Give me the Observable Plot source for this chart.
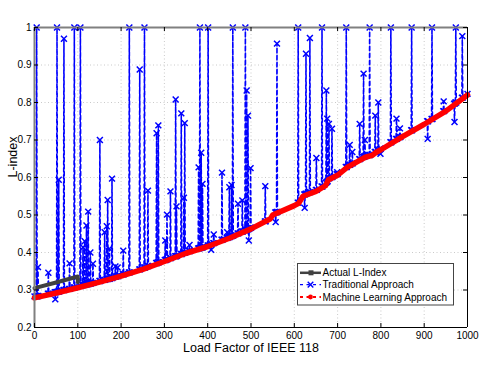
<!DOCTYPE html>
<html><head><meta charset="utf-8">
<script src="https://cdn.jsdelivr.net/npm/d3@7"></script>
<script src="https://cdn.jsdelivr.net/npm/@observablehq/plot@0.6"></script>
<style>
body{margin:0;background:#fff}
#chart{width:485px;height:374px}
</style>
</head><body><div id="chart"></div>
<script>
// ---- data ----
const xTicks = [0,100,200,300,400,500,600,700,800,900,1000];
const yTicks = [0.2,0.3,0.4,0.5,0.6,0.7,0.8,0.9,1];

const actualX = [0, 50, 100, 100];
const actualY = [0.305, 0.320, 0.336, 0.321];

const mlX = [0,50,100,150,200,250,300,350,400,450,500,545,550,600,610,620,650,672,679,700,722,750,764,780,790,800,850,900,950,1000];
const mlY = [0.279,0.292,0.306,0.321,0.337,0.355,0.376,0.398,0.416,0.438,0.463,0.490,0.500,0.525,0.531,0.550,0.563,0.578,0.594,0.606,0.627,0.645,0.654,0.659,0.668,0.674,0.709,0.742,0.777,0.820];

const tradPts = [
[0,.283],
[4,.283],[5,1],[6,.283],
[7,.284],[8,.361],[9,.284],
[31,.290],[32,.346],[33,.290],
[47,.294],[48,.275],[49,.294],
[51,.295],[52,1],[53,.295],
[55,.296],[56,.594],[57,.296],
[67,.300],[68,.97],[69,.300],
[80,.303],[81,.371],[82,.303],
[91,.307],[92,1],[93,.307],
[105,.311],[106,1],[107,.311],
[111,.313],[112,.414],[113,.313],
[115,.314],[116,.43],[117,.314],
[119,.315],[120,.472],[121,.315],
[123,.316],[124,.509],[125,.316],
[128,.317],[129,.40],[130,.317],
[134,.319],[135,.37],[136,.319],
[150,.324],[151,.70],[152,.324],
[161,.327],[162,.454],[163,.327],
[166,.329],[167,.47],[168,.329],
[169,.54],[170,.329],
[172,.330],[173,.41],[174,.330],
[178,.332],[179,.597],[180,.332],
[186,.336],[187,.363],[188,.336],
[191,.337],[192,.36],[193,.337],
[204,.342],[205,.405],[206,.342],
[218,.347],[219,1],[220,.347],
[242,.355],[243,.888],[244,.355],
[253,.360],[254,1],[255,.360],
[261,.364],[262,.565],[263,.364],
[281,.372],[282,.718],[283,.372],
[285,.374],[286,.739],[287,.374],
[301,.380],[302,.432],[303,.380],
[305,.382],[306,.501],[307,.382],
[313,.385],[314,.563],[315,.385],
[325,.390],[326,.808],[327,.390],
[328,.523],[329,.391],
[338,.396],[339,.771],[340,.396],
[344,.399],[345,.546],[346,.399],
[347,.745],[348,.400],
[357,.404],[358,.42],[359,.404],
[378,.411],[379,.627],[380,.411],
[381,.412],[382,1],[383,.412],
[384,.413],[385,.666],[386,.413],
[387,.414],[388,.583],[389,.414],
[400,.419],[401,1],[402,.419],
[407,.422],[408,.407],[409,.422],
[413,.425],[414,.448],[415,.425],
[432,.434],[433,.613],[434,.434],
[444,.439],[445,.454],[446,.439],
[449,.441],[450,.574],[451,.441],
[454,.444],[455,.58],[456,.444],
[457,.445],[458,1],[459,.445],
[469,.451],[470,.53],[471,.451],
[479,.456],[480,.539],[481,.456],
[486,.459],[487,1],[488,.459],
[489,.461],[490,.832],[491,.461],
[492,.462],[493,.765],[494,.462],
[495,.432],[496,.463],
[498,.466],[499,.625],[500,.466],
[532,.483],[533,.577],[534,.483],
[556,.507],[557,.481],[558,.507],
[559,.508],[560,.957],[561,.508],
[608,.533],[609,1],[610,.533],
[623,.555],[624,.519],[625,.555],
[626,.557],[627,.93],[628,.557],
[635,.561],[636,.972],[637,.561],
[650,.567],[651,.652],[652,.567],
[663,.576],[664,1],[665,.576],
[673,.586],[674,.832],[675,.588],
[676,.757],[677,.590],
[679,.598],[680,.743],[681,.598],
[686,.601],[687,.73],[688,.601],
[698,.609],[699,.614],[700,.609],
[719,.628],[720,1],[721,.628],
[727,.634],[728,.687],[729,.634],
[733,.638],[734,.668],[735,.638],
[750,.649],[751,.743],[752,.649],
[759,.655],[760,.877],[761,.655],
[762,.657],[763,.70],[764,.657],
[773,.660],[774,1],[775,.660],
[786,.668],[787,.765],[788,.668],
[793,.673],[794,.80],[795,.673],
[798,.677],[799,.663],[800,.677],
[822,.694],[823,1],[824,.694],
[835,.703],[836,.757],[837,.703],
[843,.708],[844,.731],[845,.708],
[870,.726],[871,1],[872,.726],
[907,.750],[908,.703],[909,.750],
[917,.756],[918,1],[919,.756],
[944,.777],[945,.803],[946,.777],
[969,.797],[970,.748],[971,.797],
[972,.800],[973,1],[974,.800],
[987,.813],[988,.977],[989,.813],
[1000,.823]
];

const seriesNames = ["Actual L-Index", "Traditional Approach", "Machine Learning Approach"];
const xLabel = "Load Factor of IEEE 118";
const yLabel = "L-index";

// ---- build tables ----
const actual = actualX.map((x,i)=>({x, y: actualY[i]}));
const ml = mlX.map((x,i)=>({x, y: mlY[i]}));
const trad = tradPts.map(([x,y])=>({x, y}));

const FONT = "'Liberation Sans', Arial, Helvetica, sans-serif";
const fmtY = d => String(+d.toFixed(1));

const chart = Plot.plot({
  width: 485, height: 374,
  marginLeft: 34, marginRight: 18, marginTop: 27, marginBottom: 47,
  x: {domain: [0, 1000], ticks: xTicks, label: null},
  y: {domain: [0.2, 1], ticks: yTicks, label: null},
  style: {fontFamily: FONT, fontSize: "10px", color: "#000", background: "#fff", overflow: "visible"},
  marks: [
    Plot.ruleX(xTicks.slice(1, -1), {x: d => d, stroke: "#bdbdbd", strokeWidth: 0.8, strokeDasharray: "1,2.5"}),
    Plot.ruleY(yTicks.slice(1, -1), {y: d => d, stroke: "#bdbdbd", strokeWidth: 0.8, strokeDasharray: "1,2.5"}),
    Plot.line(trad, {x: "x", y: "y", stroke: "#0000ff", strokeWidth: 1.6, strokeDasharray: "4,3"}),
    Plot.dot(trad, {x: "x", y: "y", symbol: "times", r: 2.8, stroke: "#0000ff", strokeWidth: 1.5}),
    Plot.line(actual, {x: "x", y: "y", stroke: "#404040", strokeWidth: 4}),
    Plot.line(ml, {x: "x", y: "y", stroke: "#ff0000", strokeWidth: 5.5, strokeLinejoin: "round", strokeLinecap: "round"}),
    // box
    Plot.ruleY([0.2], {y: d => d, stroke: "#000", strokeWidth: 1}),
    Plot.ruleX([1000], {x: d => d, stroke: "#000", strokeWidth: 1}),
    Plot.ruleY([1], {y: d => d, stroke: "#808080", strokeWidth: 2}),
    Plot.ruleX([0], {x: d => d, stroke: "#808080", strokeWidth: 2}),
    // inward ticks
    Plot.tickX(xTicks, {x: d => d, insetTop: 296, stroke: "#000"}),
    Plot.tickX(xTicks, {x: d => d, insetBottom: 296, stroke: "#000"}),
    Plot.tickY(yTicks, {y: d => d, insetRight: 429, stroke: "#000"}),
    Plot.tickY(yTicks, {y: d => d, insetLeft: 429, stroke: "#000"}),
    Plot.axisX({ticks: xTicks, tickSize: 0, tickPadding: 4, tickFormat: d => String(d), label: null}),
    Plot.axisY({ticks: yTicks, tickSize: 0, tickPadding: 3, tickFormat: fmtY, label: null}),
    Plot.text([xLabel], {text: d => d, frameAnchor: "bottom", dy: 20, lineAnchor: "middle", fontSize: 12.5}),
    Plot.text([yLabel], {text: d => d, frameAnchor: "left", dx: -22, rotate: -90, lineAnchor: "middle", fontSize: 12.5})
  ]
});
document.getElementById("chart").appendChild(chart);

// ---- legend (inside plot area, lower right) ----
const svg = d3.select(chart);
const lg = svg.append("g").attr("font-family", FONT).attr("font-size", 10).attr("text-anchor", "start");
lg.append("rect").attr("x", 297.5).attr("y", 263.5).attr("width", 156).attr("height", 41.5)
  .attr("fill", "#fff").attr("stroke", "#444").attr("stroke-width", 1);
const rows = [272.8, 284.6, 297.0];
// actual
lg.append("line").attr("x1", 300).attr("x2", 321).attr("y1", rows[0]).attr("y2", rows[0])
  .attr("stroke", "#404040").attr("stroke-width", 2.5);
lg.append("rect").attr("x", 308.5).attr("y", rows[0] - 2.5).attr("width", 5).attr("height", 5).attr("fill", "#404040");
// traditional
lg.append("line").attr("x1", 300).attr("x2", 321).attr("y1", rows[1]).attr("y2", rows[1])
  .attr("stroke", "#0000ff").attr("stroke-width", 1.4).attr("stroke-dasharray", "3,3.5");
lg.append("path").attr("d", d3.symbol(d3.symbolTimes, 22)()).attr("transform", `translate(310.5,${rows[1]})`)
  .attr("stroke", "#0000ff").attr("stroke-width", 1.4).attr("fill", "none");
// ML
lg.append("line").attr("x1", 300).attr("x2", 321).attr("y1", rows[2]).attr("y2", rows[2])
  .attr("stroke", "#ff0000").attr("stroke-width", 2).attr("stroke-dasharray", "3,3.5");
lg.append("circle").attr("cx", 310.5).attr("cy", rows[2]).attr("r", 2.4).attr("fill", "#ff0000");
seriesNames.forEach((name, i) => {
  lg.append("text").attr("x", 322.5).attr("y", rows[i]).attr("dy", "0.35em")
    .attr("text-anchor", "start").attr("fill", "#000").text(name);
});
</script>
</body></html>
